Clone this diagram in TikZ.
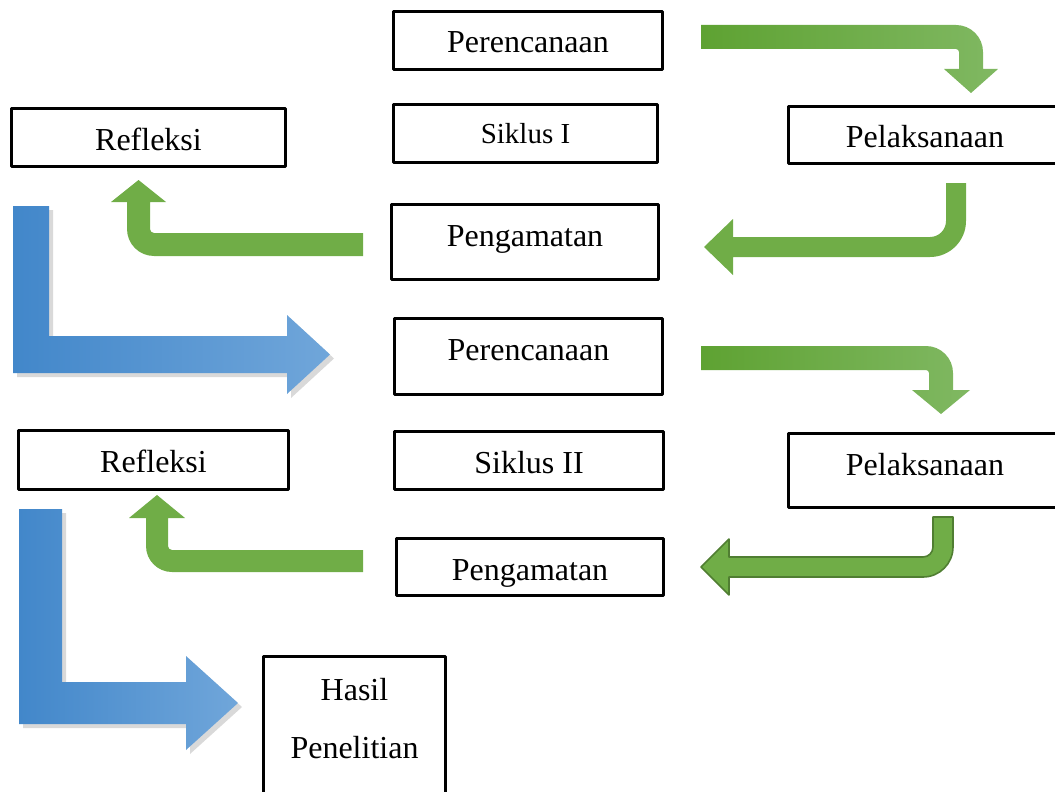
\documentclass[tikz,border=0pt]{standalone}
\usepackage{fontspec}
\setmainfont{Liberation Serif}
\usetikzlibrary{shadows}
\definecolor{hijau}{HTML}{70AD47}
\definecolor{hijaukiri}{HTML}{5EA232}
\definecolor{hijaukanan}{HTML}{80B862}
\definecolor{hijaugaris}{HTML}{507E32}
\definecolor{birukiri}{HTML}{4287CA}
\definecolor{birukanan}{HTML}{70A6DA}
\begin{document}
\begin{tikzpicture}[x=0.5pt,y=-0.5pt, line join=round,
    kotak/.style={draw, line width=1.5pt, inner sep=0pt, outer sep=0pt, anchor=north west,
      font=\fontsize{16}{29}\selectfont, text height=20.75pt},
    panahhijau/.style={fill=hijau},
    panahbiru/.style={left color=birukiri, right color=birukanan,
      drop shadow={shadow xshift=2pt, shadow yshift=-2pt, opacity=0.3}}]
    \useasboundingbox (0,0) rectangle (1055,792);
    % kotak-kotak siklus I
    \node (ren1) at (393.5,11.5) [kotak, minimum width=134.5pt, text depth=8.25pt] {Perencanaan};
    \node (sik1) at (393.5,104.5) [kotak, minimum width=132pt, font=\fontsize{14.5}{17}\selectfont,
      text height=19.25pt, text depth=9.75pt] {Siklus I};
    \node (ref1) at (11.5,108.5) [kotak, minimum width=137pt, text depth=8.25pt] {Refleksi};
    \node (pel1) at (788.5,106.5) [kotak, minimum width=136.5pt, text depth=7.75pt] {Pelaksanaan};
    \node (pen1) at (391.5,204.5) [kotak, minimum width=133.5pt, text depth=16.75pt] {Pengamatan};
    % kotak-kotak siklus II
    \node (ren2) at (394.5,318.5) [kotak, minimum width=134pt, text depth=17.25pt] {Perencanaan};
    \node (ref2) at (18.5,430.5) [kotak, minimum width=135pt, text depth=8.75pt] {Refleksi};
    \node (sik2) at (394.5,431.5) [kotak, minimum width=134.5pt, text depth=8.25pt] {Siklus II};
    \node (pel2) at (788.5,433.5) [kotak, minimum width=136.5pt, text depth=16.25pt] {Pelaksanaan};
    \node (pen2) at (396.5,538.5) [kotak, minimum width=133.5pt, text depth=7.75pt] {Pengamatan};
    \node (hasil) at (263.5,656.5) [kotak, text width=91pt, align=center,
      text height=21.75pt, text depth=60.25pt] {Hasil\\Penelitian};
    % panah siklus I
    \shade[left color=hijaukiri, right color=hijaukanan] (701,25) -- (956,25)
      arc[start angle=90, end angle=0, radius=13.5pt] -- (983,69) -- (998,69) -- (971,93)
      -- (944,69) -- (959,69) -- (959,52) arc[start angle=0, end angle=90, radius=1.5pt]
      -- (701,49) -- cycle;
    \fill[panahhijau] (946,183) -- (966,183) -- (966,221)
      arc[start angle=0, end angle=-90, radius=18pt] -- (733,257) -- (733,275) -- (704,247)
      -- (733,219) -- (733,237) -- (930,237) arc[start angle=-90, end angle=0, radius=8pt]
      -- cycle;
    \fill[panahhijau] (363,233) -- (154,233)
      arc[start angle=-90, end angle=-180, radius=2pt] -- (150,202) -- (166,202) -- (138.5,180)
      -- (111,202) -- (127,202) -- (127,229) arc[start angle=180, end angle=270, radius=13.5pt]
      -- (363,256) -- cycle;
    \shade[panahbiru] (13,206) -- (49,206) -- (49,336) -- (287,336) -- (287,315) -- (330,354.5)
      -- (287,394) -- (287,373) -- (13,373) -- cycle;
    % panah siklus II
    \shade[left color=hijaukiri, right color=hijaukanan] (701,346) -- (926,346)
      arc[start angle=90, end angle=0, radius=13.5pt] -- (953,390) -- (970,390) -- (941,414)
      -- (912,390) -- (929,390) -- (929,373) arc[start angle=0, end angle=90, radius=1.5pt]
      -- (701,370) -- cycle;
    \filldraw[panahhijau, draw=hijaugaris, line width=0.8pt] (933,517) -- (953,517) -- (953,547)
      arc[start angle=0, end angle=-90, radius=15pt] -- (729,577) -- (729,595) -- (701,567)
      -- (729,539) -- (729,557) -- (923,557) arc[start angle=-90, end angle=0, radius=5pt]
      -- cycle;
    \fill[panahhijau] (363,550) -- (172,550)
      arc[start angle=-90, end angle=-180, radius=2pt] -- (168,518) -- (185,518) -- (157,495)
      -- (129,518) -- (146,518) -- (146,546) arc[start angle=180, end angle=270, radius=13pt]
      -- (363,572) -- cycle;
    \shade[panahbiru] (19,509) -- (62,509) -- (62,682) -- (186,682) -- (186,656) -- (238,703)
      -- (186,750) -- (186,724) -- (19,724) -- cycle;
\end{tikzpicture}
\end{document}
